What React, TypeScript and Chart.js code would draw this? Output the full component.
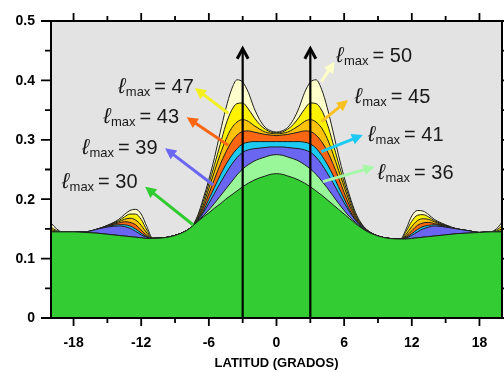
import React, { useEffect, useRef } from 'react';
import { Chart, registerables } from 'chart.js';

Chart.register(...registerables);

// Latitude grid (degrees)
const LAT = [
  -20, -19.5, -19, -18, -17, -16, -15, -14, -13.5, -13, -12.5, -12, -11.5, -11, -10, -9, -8,
  -7.5, -7, -6.5, -6, -5.5, -5, -4.5, -4, -3.5, -3, -2.5, -2, -1.5, -1, -0.5, 0,
  0.5, 1, 1.5, 2, 2.5, 3, 3.5, 4, 4.5, 5, 5.5, 6, 6.5, 7, 7.5, 8,
  9, 10, 11, 11.5, 12, 12.5, 13, 13.5, 14, 15, 16, 17, 18, 19, 19.5, 20,
];

const L30 = [
  0.145, 0.145, 0.145, 0.145, 0.144, 0.143, 0.141, 0.139, 0.138, 0.137, 0.136, 0.135, 0.134, 0.134, 0.135, 0.139, 0.147,
  0.154, 0.162, 0.170, 0.177, 0.185, 0.192, 0.200, 0.207, 0.214, 0.221, 0.227, 0.232, 0.236, 0.239, 0.242, 0.243,
  0.242, 0.239, 0.236, 0.232, 0.227, 0.221, 0.214, 0.207, 0.199, 0.191, 0.183, 0.175, 0.167, 0.159, 0.152, 0.146,
  0.138, 0.134, 0.133, 0.133, 0.134, 0.135, 0.136, 0.137, 0.138, 0.140, 0.142, 0.143, 0.144, 0.145, 0.145, 0.145,
];
const L36 = [
  0.145, 0.145, 0.145, 0.145, 0.144, 0.143, 0.141, 0.139, 0.138, 0.137, 0.136, 0.135, 0.134, 0.134, 0.135, 0.139, 0.147,
  0.154, 0.163, 0.172, 0.182, 0.193, 0.205, 0.217, 0.229, 0.241, 0.251, 0.258, 0.264, 0.268, 0.271, 0.274, 0.275,
  0.274, 0.271, 0.268, 0.264, 0.258, 0.251, 0.242, 0.231, 0.219, 0.206, 0.193, 0.181, 0.170, 0.161, 0.153, 0.146,
  0.138, 0.134, 0.133, 0.133, 0.134, 0.135, 0.136, 0.137, 0.138, 0.140, 0.142, 0.143, 0.144, 0.145, 0.145, 0.145,
];
const L39 = [
  0.145, 0.145, 0.145, 0.145, 0.145, 0.149, 0.153, 0.155, 0.154, 0.151, 0.146, 0.140, 0.136, 0.134, 0.135, 0.139, 0.147,
  0.154, 0.164, 0.177, 0.193, 0.210, 0.227, 0.243, 0.258, 0.270, 0.279, 0.283, 0.285, 0.286, 0.287, 0.288, 0.288,
  0.288, 0.287, 0.286, 0.285, 0.283, 0.279, 0.271, 0.259, 0.244, 0.228, 0.211, 0.194, 0.178, 0.165, 0.155, 0.147,
  0.138, 0.134, 0.133, 0.135, 0.139, 0.145, 0.150, 0.153, 0.155, 0.153, 0.150, 0.147, 0.144, 0.145, 0.145, 0.145,
];
const L41 = [
  0.145, 0.145, 0.145, 0.145, 0.145, 0.149, 0.154, 0.157, 0.157, 0.155, 0.150, 0.143, 0.137, 0.134, 0.135, 0.139, 0.147,
  0.154, 0.165, 0.180, 0.200, 0.220, 0.240, 0.258, 0.273, 0.285, 0.293, 0.296, 0.297, 0.297, 0.297, 0.297, 0.297,
  0.297, 0.297, 0.297, 0.297, 0.296, 0.293, 0.286, 0.274, 0.259, 0.241, 0.221, 0.201, 0.181, 0.166, 0.156, 0.147,
  0.138, 0.134, 0.133, 0.136, 0.142, 0.149, 0.154, 0.156, 0.157, 0.154, 0.150, 0.147, 0.144, 0.145, 0.145, 0.145,
];
const L43 = [
  0.146, 0.145, 0.145, 0.145, 0.145, 0.149, 0.155, 0.160, 0.162, 0.161, 0.157, 0.148, 0.139, 0.134, 0.135, 0.139, 0.147,
  0.154, 0.166, 0.185, 0.209, 0.234, 0.258, 0.279, 0.296, 0.308, 0.314, 0.315, 0.313, 0.311, 0.309, 0.308, 0.307,
  0.308, 0.309, 0.311, 0.313, 0.315, 0.314, 0.308, 0.297, 0.281, 0.260, 0.236, 0.211, 0.188, 0.169, 0.157, 0.148,
  0.138, 0.134, 0.133, 0.138, 0.147, 0.156, 0.160, 0.161, 0.159, 0.155, 0.150, 0.147, 0.144, 0.145, 0.145, 0.147,
];
const L45 = [
  0.149, 0.146, 0.145, 0.145, 0.145, 0.149, 0.155, 0.162, 0.166, 0.168, 0.165, 0.156, 0.143, 0.134, 0.135, 0.139, 0.147,
  0.154, 0.168, 0.190, 0.218, 0.247, 0.275, 0.300, 0.319, 0.330, 0.334, 0.331, 0.324, 0.318, 0.313, 0.311, 0.310,
  0.311, 0.313, 0.318, 0.324, 0.331, 0.334, 0.330, 0.320, 0.302, 0.277, 0.249, 0.221, 0.194, 0.172, 0.158, 0.148,
  0.138, 0.134, 0.133, 0.141, 0.154, 0.164, 0.167, 0.166, 0.162, 0.155, 0.150, 0.147, 0.144, 0.145, 0.146, 0.150,
];
const L47 = [
  0.153, 0.147, 0.145, 0.145, 0.145, 0.149, 0.156, 0.164, 0.170, 0.175, 0.175, 0.166, 0.148, 0.134, 0.135, 0.139, 0.147,
  0.154, 0.170, 0.196, 0.226, 0.258, 0.292, 0.325, 0.349, 0.361, 0.362, 0.352, 0.338, 0.326, 0.318, 0.313, 0.312,
  0.313, 0.318, 0.326, 0.338, 0.352, 0.362, 0.361, 0.350, 0.327, 0.295, 0.261, 0.229, 0.200, 0.175, 0.159, 0.148,
  0.138, 0.134, 0.133, 0.146, 0.163, 0.173, 0.174, 0.170, 0.164, 0.156, 0.150, 0.147, 0.144, 0.145, 0.148, 0.155,
];
const L50 = [
  0.160, 0.150, 0.145, 0.145, 0.145, 0.149, 0.156, 0.166, 0.174, 0.181, 0.183, 0.175, 0.154, 0.135, 0.135, 0.139, 0.147,
  0.154, 0.172, 0.201, 0.233, 0.270, 0.312, 0.352, 0.384, 0.401, 0.397, 0.380, 0.354, 0.334, 0.321, 0.315, 0.313,
  0.315, 0.321, 0.334, 0.354, 0.380, 0.397, 0.401, 0.385, 0.354, 0.315, 0.274, 0.237, 0.205, 0.178, 0.160, 0.149,
  0.138, 0.134, 0.133, 0.150, 0.172, 0.181, 0.180, 0.174, 0.166, 0.157, 0.150, 0.147, 0.144, 0.145, 0.150, 0.161,
];

const SERIES_VALUES = [L30, L36, L39, L41, L43, L45, L47, L50];
const SERIES_NAMES = ['30', '36', '39', '41', '43', '45', '47', '50'];
const SERIES_COLORS = ['#33cc33', '#99f799', '#6a66f2', '#1ccaf2', '#fb6613', '#ffc20a', '#fff200', '#ffffcc'];
const ARROW_COLORS = ['#2fcc2f', '#a6f7a6', '#6a66f2', '#1ccaf2', '#fb6613', '#f8c020', '#f4f020', '#ffffc8'];

// annotation anchors (data coords): label baseline-left, arrow tail, arrow tip
const NOTE_AT = [[-19.03, 0.2194], [8.99, 0.2335], [-17.26, 0.2756], [8.11, 0.298], [-15.35, 0.3278], [6.93, 0.3625], [-14.04, 0.3793], [5.31, 0.4315]];
const ARROW_FROM = [[-7.38, 0.1566], [4.12, 0.2295], [-5.61, 0.224], [3.98, 0.28], [-4.28, 0.291], [3.98, 0.3305], [-4.28, 0.3446], [3.98, 0.398]];
const ARROW_TO = [[-11.65, 0.221], [8.7, 0.2547], [-9.88, 0.2857], [7.66, 0.308], [-7.96, 0.338], [6.34, 0.367], [-7.24, 0.387], [5.16, 0.4315]];

const VERTICAL_X = [-3, 3];
const VERTICAL_TOP = 0.455;

const X_MAJOR = [-18, -12, -6, 0, 6, 12, 18];
const X_MINOR = [-15, -9, -3, 3, 9, 15];
const Y_MAJOR = [0, 0.1, 0.2, 0.3, 0.4, 0.5];
const Y_MINOR = [0.05, 0.15, 0.25, 0.35, 0.45];
const Y_LABELS = ['0', '0.1', '0.2', '0.3', '0.4', '0.5'];
const X_TITLE = 'LATITUD (GRADOS)';

const FONT = '"Liberation Sans", Arial, sans-serif';

function arrow(ctx: CanvasRenderingContext2D, x1: number, y1: number, x2: number, y2: number, color: string) {
  const ang = Math.atan2(y2 - y1, x2 - x1);
  const head = 11;
  const hw = 5.5;
  ctx.save();
  ctx.strokeStyle = color;
  ctx.fillStyle = color;
  ctx.lineWidth = 3;
  ctx.beginPath();
  ctx.moveTo(x1, y1);
  ctx.lineTo(x2 - Math.cos(ang) * head * 0.8, y2 - Math.sin(ang) * head * 0.8);
  ctx.stroke();
  const bx = x2 - Math.cos(ang) * head;
  const by = y2 - Math.sin(ang) * head;
  ctx.beginPath();
  ctx.moveTo(x2, y2);
  ctx.lineTo(bx + Math.sin(ang) * hw, by - Math.cos(ang) * hw);
  ctx.lineTo(bx - Math.sin(ang) * hw, by + Math.cos(ang) * hw);
  ctx.closePath();
  ctx.fill();
  ctx.restore();
}

const decor = {
  id: 'decor',
  beforeDatasetsDraw(chart: any) {
    const { ctx, chartArea: a } = chart;
    ctx.save();
    ctx.fillStyle = '#e3e3e3';
    ctx.fillRect(a.left, a.top, a.right - a.left, a.bottom - a.top);
    ctx.restore();
  },
  afterDatasetsDraw(chart: any) {
    const { ctx, chartArea: a } = chart;
    const xs = chart.scales.x;
    const ys = chart.scales.y;
    ctx.save();
    // vertical arrows
    ctx.strokeStyle = '#000';
    ctx.lineWidth = 2.2;
    for (const v of VERTICAL_X) {
      const px = xs.getPixelForValue(v);
      const top = ys.getPixelForValue(VERTICAL_TOP);
      ctx.beginPath();
      ctx.moveTo(px, a.bottom);
      ctx.lineTo(px, top + 1);
      ctx.stroke();
      ctx.save();
      ctx.lineWidth = 3;
      ctx.lineJoin = 'miter';
      ctx.beginPath();
      ctx.moveTo(px - 5.5, top + 11);
      ctx.lineTo(px, top + 1);
      ctx.lineTo(px + 5.5, top + 11);
      ctx.stroke();
      ctx.restore();
    }
    // colored arrows and labels
    for (let i = 0; i < SERIES_NAMES.length; i++) {
      const f = ARROW_FROM[i];
      const t = ARROW_TO[i];
      arrow(ctx, xs.getPixelForValue(f[0]), ys.getPixelForValue(f[1]), xs.getPixelForValue(t[0]), ys.getPixelForValue(t[1]), ARROW_COLORS[i]);
      const lx = xs.getPixelForValue(NOTE_AT[i][0]);
      const ly = ys.getPixelForValue(NOTE_AT[i][1]);
      ctx.fillStyle = '#1a1a1a';
      ctx.textAlign = 'left';
      ctx.textBaseline = 'alphabetic';
      ctx.font = `italic 22px ${FONT}`;
      ctx.fillText('\u2113', lx, ly);
      let cx = lx + ctx.measureText('\u2113').width + 0.5;
      ctx.font = `13px ${FONT}`;
      ctx.fillText('max', cx, ly + 3);
      cx += ctx.measureText('max').width + 4;
      ctx.font = `20px ${FONT}`;
      ctx.fillText('= ' + SERIES_NAMES[i], cx, ly);
    }
    ctx.restore();

    // frame, ticks and axis text
    ctx.save();
    ctx.strokeStyle = '#000';
    ctx.lineWidth = 2;
    ctx.strokeRect(a.left, a.top, a.right - a.left, a.bottom - a.top);
    ctx.lineWidth = 1.8;
    const tickX = (vals: number[], len: number) => {
      for (const v of vals) {
        const px = xs.getPixelForValue(v);
        ctx.beginPath();
        ctx.moveTo(px, a.bottom);
        ctx.lineTo(px, a.bottom + len);
        ctx.moveTo(px, a.top);
        ctx.lineTo(px, a.top - len);
        ctx.stroke();
      }
    };
    const tickY = (vals: number[], len: number) => {
      for (const v of vals) {
        const py = ys.getPixelForValue(v);
        ctx.beginPath();
        ctx.moveTo(a.left, py);
        ctx.lineTo(a.left - len, py);
        ctx.moveTo(a.right, py);
        ctx.lineTo(a.right + len, py);
        ctx.stroke();
      }
    };
    tickX(X_MAJOR, 8);
    tickX(X_MINOR, 5);
    tickY(Y_MAJOR, 10);
    tickY(Y_MINOR, 6);

    ctx.fillStyle = '#000';
    ctx.font = `bold 14px ${FONT}`;
    ctx.textAlign = 'center';
    ctx.textBaseline = 'middle';
    for (const v of X_MAJOR) {
      ctx.fillText(String(v), xs.getPixelForValue(v), a.bottom + 25);
    }
    ctx.textAlign = 'right';
    Y_MAJOR.forEach((v, k) => {
      ctx.fillText(Y_LABELS[k], a.left - 16, ys.getPixelForValue(v) + 0.5);
    });
    ctx.textAlign = 'center';
    ctx.font = `bold 13px ${FONT}`;
    ctx.fillText(X_TITLE, (a.left + a.right) / 2, a.bottom + 45);
    ctx.restore();
  },
};

export default function App() {
  const ref = useRef<HTMLCanvasElement | null>(null);
  useEffect(() => {
    document.body.style.margin = '0';
    const canvas = ref.current;
    if (!canvas) return;
    const datasets = SERIES_VALUES.map((vals, i) => ({
      label: 'ℓmax = ' + SERIES_NAMES[i],
      data: LAT.map((x, k) => ({ x, y: vals[k] })),
      backgroundColor: SERIES_COLORS[i],
      borderColor: '#1e1e1e',
      borderWidth: 1,
      pointRadius: 0,
      fill: 'origin',
      cubicInterpolationMode: 'monotone' as const,
    }));
    const chart = new Chart(canvas, {
      type: 'line',
      data: { datasets },
      options: {
        animation: false,
        responsive: false,
        devicePixelRatio: 1,
        layout: { padding: { top: 21, right: 2, left: 51, bottom: 54 } },
        plugins: { legend: { display: false }, tooltip: { enabled: false } },
        scales: {
          x: {
            type: 'linear',
            min: -20,
            max: 20,
            display: false,
          },
          y: {
            type: 'linear',
            min: 0,
            max: 0.5,
            display: false,
          },
        },
      },
      plugins: [decor],
    });
    return () => chart.destroy();
  }, []);
  return (
    <div style={{ position: 'absolute', left: 0, top: 0, width: 504, height: 372, background: '#fff' }}>
      <canvas ref={ref} width={504} height={372} style={{ display: 'block' }} />
    </div>
  );
}
